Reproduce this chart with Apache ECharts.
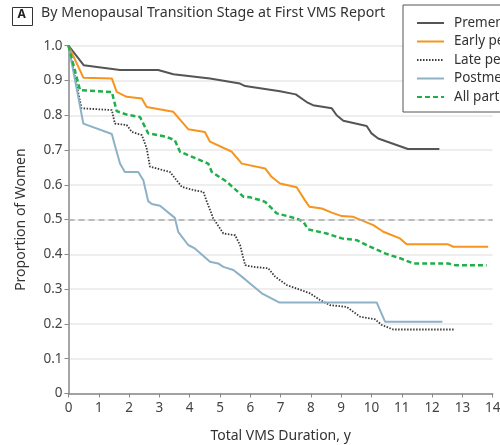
<!DOCTYPE html>
<html>
<head>
<meta charset="utf-8">
<script src="https://cdn.jsdelivr.net/npm/echarts@6/dist/echarts.min.js"></script>
<style>html,body{margin:0;padding:0;background:#fff;}#c{width:500px;height:445px;}</style>
</head>
<body>
<div id="c"></div>
<script>
const seriesNames = ["Premenopausal", "Early perimenopausal", "Late perimenopausal", "Postmenopausal", "All participants"];
const xTicks = [0,1,2,3,4,5,6,7,8,9,10,11,12,13,14];
const yTicks = [0,0.1,0.2,0.3,0.4,0.5,0.6,0.7,0.8,0.9,1.0];

const premenopausal = [[0,1.0],[0.5,0.944],[1.7,0.930],[2.96,0.930],[3.46,0.918],[4.67,0.906],[5.66,0.891],[5.83,0.884],[6.98,0.869],[7.5,0.86],[7.86,0.838],[8.07,0.829],[8.69,0.820],[8.85,0.800],[9.07,0.784],[9.84,0.769],[10.0,0.748],[10.22,0.733],[11.2,0.703],[12.24,0.703]];
const earlyPeri = [[0,1.0],[0.49,0.908],[1.43,0.906],[1.59,0.867],[1.92,0.853],[2.42,0.848],[2.58,0.824],[3.46,0.810],[3.95,0.760],[4.5,0.752],[4.67,0.724],[5.39,0.695],[5.72,0.661],[6.49,0.647],[6.7,0.623],[6.98,0.604],[7.53,0.593],[7.8,0.556],[7.95,0.537],[8.36,0.532],[8.69,0.520],[9.02,0.510],[9.4,0.508],[10.06,0.484],[10.39,0.465],[10.94,0.446],[11.16,0.429],[12.53,0.429],[12.7,0.422],[13.85,0.422]];
const latePeri = [[0,1.0],[0.43,0.820],[1.43,0.815],[1.53,0.776],[1.92,0.772],[2.09,0.752],[2.42,0.743],[2.58,0.705],[2.69,0.652],[2.91,0.647],[3.35,0.637],[3.74,0.594],[4.12,0.585],[4.45,0.580],[4.56,0.553],[4.78,0.503],[5.11,0.460],[5.5,0.455],[5.66,0.427],[5.83,0.369],[6.1,0.364],[6.59,0.360],[6.82,0.336],[7.2,0.312],[7.97,0.288],[8.3,0.269],[8.63,0.254],[9.18,0.249],[9.62,0.221],[10.12,0.213],[10.34,0.197],[10.72,0.184],[12.72,0.184]];
const postmenopausal = [[0,1.0],[0.49,0.776],[1.43,0.746],[1.53,0.714],[1.70,0.661],[1.86,0.637],[2.30,0.637],[2.47,0.613],[2.63,0.553],[2.75,0.545],[3.02,0.540],[3.51,0.505],[3.62,0.465],[3.95,0.427],[4.17,0.417],[4.67,0.379],[4.94,0.374],[5.11,0.364],[5.44,0.355],[5.72,0.336],[6.05,0.312],[6.38,0.288],[6.95,0.262],[10.17,0.262],[10.45,0.206],[12.34,0.206]];
const allParticipants = [[0,1.0],[0.38,0.872],[1.43,0.867],[1.59,0.812],[1.92,0.802],[2.36,0.795],[2.63,0.748],[3.24,0.738],[3.51,0.728],[3.68,0.695],[4.34,0.671],[4.61,0.661],[4.73,0.637],[5.22,0.609],[5.77,0.566],[6.0,0.564],[6.32,0.556],[6.49,0.551],[6.87,0.518],[7.53,0.503],[7.75,0.494],[7.91,0.472],[8.52,0.460],[9.02,0.446],[9.51,0.441],[9.95,0.422],[10.5,0.401],[10.94,0.389],[11.38,0.374],[12.53,0.374],[12.76,0.369],[13.8,0.369]];
const referenceLine = 0.5;

const FONT = "Noto Sans";
const chart = echarts.init(document.getElementById('c'), null, {renderer: 'canvas'});

function mk(name, data, color, type, width, z) {
  return {
    name: name, type: 'line', data: data, symbol: 'none', z: z,
    lineStyle: {color: color, width: width, type: type},
    itemStyle: {color: color},
    animation: false
  };
}

const series = [
  mk(seriesNames[0], premenopausal, '#555555', 'solid', 2, 3),
  mk(seriesNames[1], earlyPeri, '#f7941d', 'solid', 2, 3),
  mk(seriesNames[2], latePeri, '#3a3a3a', [1.5,1.5], 1.8, 3),
  mk(seriesNames[3], postmenopausal, '#8db1c7', 'solid', 2, 3),
  mk(seriesNames[4], allParticipants, '#1faf4b', [5,3], 2.5, 4)
];
series[0].markLine = {
  silent: true, symbol: 'none', label: {show: false},
  lineStyle: {color: '#aaaaaa', type: [6,4], width: 1.5},
  data: [{yAxis: referenceLine}]
};

chart.setOption({
  animation: false,
  textStyle: {fontFamily: FONT},
  grid: {left: 68.5, right: 7.3, top: 45.7, bottom: 51.5, containLabel: false, outerBoundsMode: 'none'},
  xAxis: {
    type: 'value', min: xTicks[0], max: xTicks[xTicks.length-1], interval: 1,
    name: 'Total VMS Duration, y', nameLocation: 'middle', nameGap: 36,
    nameTextStyle: {fontSize: 14, color: '#333', fontFamily: FONT},
    axisLine: {lineStyle: {color: '#888', width: 1.5}},
    axisTick: {show: true, length: 4, lineStyle: {color: '#888'}},
    axisLabel: {fontSize: 13.5, color: '#444', margin: 8, fontFamily: FONT},
    splitLine: {show: false}
  },
  yAxis: {
    type: 'value', min: yTicks[0], max: yTicks[yTicks.length-1], interval: 0.1,
    name: 'Proportion of Women', nameLocation: 'middle', nameGap: 40,
    nameTextStyle: {fontSize: 14, color: '#333', fontFamily: FONT},
    axisLine: {show: true, lineStyle: {color: '#888', width: 1.5}},
    axisTick: {show: true, length: 4, lineStyle: {color: '#888'}},
    axisLabel: {fontSize: 13.5, color: '#444', margin: 6, fontFamily: FONT,
      formatter: v => v === 0 ? '0' : v.toFixed(1)},
    splitLine: {show: true, lineStyle: {color: '#e8e8e8', width: 1.5}}
  },
  legend: {
    orient: 'vertical', left: 403, top: 5,
    data: seriesNames,
    backgroundColor: '#fff',
    borderColor: '#555', borderWidth: 1, borderRadius: 0,
    padding: [11, 10, 8, 13],
    itemWidth: 27, itemHeight: 10, itemGap: 4.5,
    itemStyle: {color: 'transparent', borderColor: 'transparent', borderWidth: 0, opacity: 0},
    textStyle: {fontSize: 13.5, color: '#333', fontFamily: FONT, lineHeight: 14, padding: [0,0,0,5]}
  },
  graphic: [
    {type: 'rect', left: 12, top: 7, shape: {width: 20, height: 18}, style: {fill: '#fff', stroke: '#333', lineWidth: 1}},
    {type: 'text', left: 17.5, top: 9, style: {text: 'A', font: 'bold 12px "' + FONT + '"', fill: '#222'}},
    {type: 'text', left: 41, top: 6, style: {text: 'By Menopausal Transition Stage at First VMS Report', font: '14.2px "' + FONT + '"', fill: '#333'}}
  ],
  series: series
});
</script>
</body>
</html>
